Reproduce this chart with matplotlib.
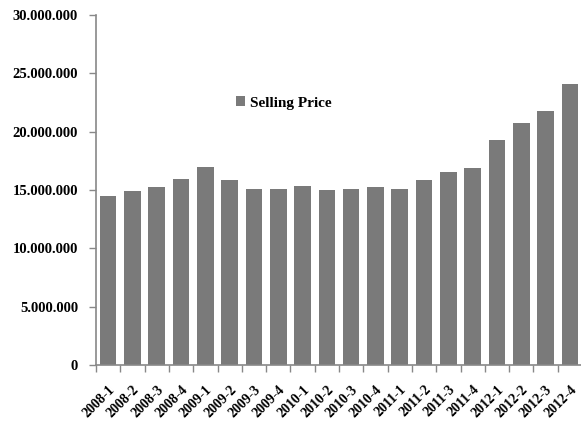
import matplotlib
matplotlib.use("Agg")
import matplotlib.pyplot as plt
import matplotlib.transforms as mtransforms
import numpy as np
from matplotlib.ticker import FuncFormatter

quarters = ["2008-1", "2008-2", "2008-3", "2008-4",
            "2009-1", "2009-2", "2009-3", "2009-4",
            "2010-1", "2010-2", "2010-3", "2010-4",
            "2011-1", "2011-2", "2011-3", "2011-4",
            "2012-1", "2012-2", "2012-3", "2012-4"]
selling_price = [14.45, 14.9, 15.25, 15.95,
                 17.0, 15.85, 15.1, 15.1,
                 15.35, 15.0, 15.1, 15.25,
                 15.1, 15.85, 16.5, 16.9,
                 19.3, 20.7, 21.8, 24.1]  # millions
yticks = [0, 5, 10, 15, 20, 25, 30]

plt.rcParams["font.family"] = ["Liberation Serif", "DejaVu Serif"]
plt.rcParams["font.weight"] = "bold"

fig = plt.figure(figsize=(5.81, 4.23), dpi=100)
ax = fig.add_axes([96 / 581, 58 / 423, 486 / 581, 350 / 423])

x = np.arange(len(quarters))
ax.bar(x, np.array(selling_price) * 1e6, width=0.68, color="#7a7a7a",
       label="Selling Price", zorder=2)

ax.set_xlim(-0.5, len(quarters) - 0.5)
ax.set_ylim(0, 30e6)
ax.set_yticks([v * 1e6 for v in yticks])
ax.yaxis.set_major_formatter(FuncFormatter(lambda v, _: f"{int(v):,}".replace(",", ".")))
ax.set_xticks(np.arange(len(quarters) + 1) - 0.5)
ax.set_xticklabels([])
ax.set_xticks(x, minor=True)
ax.set_xticklabels(quarters, minor=True, rotation=45, ha="right",
                   rotation_mode="anchor", fontsize=10, fontweight="bold")
shift = mtransforms.ScaledTranslation(4 / 100, 0, fig.dpi_scale_trans)
for lbl in ax.get_xticklabels(minor=True):
    lbl.set_transform(lbl.get_transform() + shift)
ax.tick_params(axis="x", which="minor", length=0, pad=13)
ax.tick_params(axis="x", which="major", length=5, color="#888888", width=1)
ax.tick_params(axis="y", length=5, color="#888888", width=1, labelsize=10.5, pad=8)

for s in ["top", "right"]:
    ax.spines[s].set_visible(False)
for s in ["left", "bottom"]:
    ax.spines[s].set_color("#888888")
    ax.spines[s].set_linewidth(1.2)

fig.legend(loc="center", bbox_to_anchor=(284 / 581, 1 - 103 / 423), frameon=False,
           handlelength=0.6, handleheight=0.6, handletextpad=0.3,
           prop={"size": 11, "weight": "bold"})

fig.savefig("out.png", dpi=100)
